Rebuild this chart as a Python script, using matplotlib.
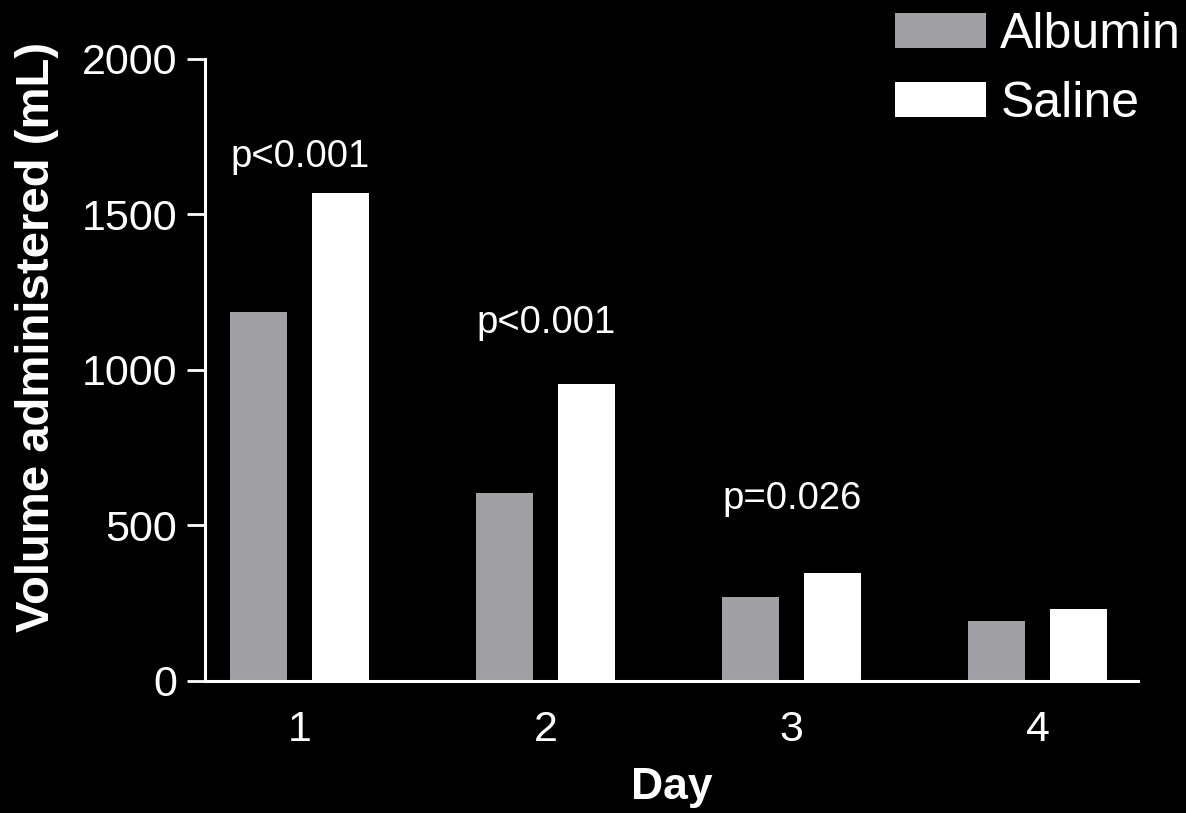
import numpy as np
import matplotlib

matplotlib.use("Agg")
import matplotlib.pyplot as plt

plt.rcParams["font.family"] = ["Liberation Sans", "DejaVu Sans"]

days = ["1", "2", "3", "4"]
albumin = [1184, 603, 269, 194]
saline = [1567, 954, 348, 230]
p_labels = ["p<0.001", "p<0.001", "p=0.026", None]
p_heights = [1683, 1150, 585, None]

ALB_COLOR = "#a09fa4"
SAL_COLOR = "#ffffff"
FG = "white"

fig = plt.figure(figsize=(11.86, 8.13), dpi=100, facecolor="black")
ax = fig.add_axes([0.1729, 0.1624, 0.7866, 0.7656], facecolor="black")

x = np.arange(1, len(days) + 1)
w = 0.232
off = 0.167
ax.bar(x - off, albumin, width=w, color=ALB_COLOR, label="Albumin")
ax.bar(x + off, saline, width=w, color=SAL_COLOR, label="Saline")

for xi, lab, h in zip(x, p_labels, p_heights):
    if lab is None:
        continue
    ax.text(xi, h, lab, ha="center", va="center", color=FG, fontsize=27.5)

ax.set_xlim(0.615, 4.408)
ax.set_ylim(0, 2000)
ax.set_yticks([0, 500, 1000, 1500, 2000])
ax.set_xticks(x)
ax.set_xticklabels(days)

for side in ("top", "right"):
    ax.spines[side].set_visible(False)
for side in ("left", "bottom"):
    ax.spines[side].set_color(FG)
    ax.spines[side].set_linewidth(2.2)

ax.tick_params(axis="y", colors=FG, labelsize=31, length=13, width=2, pad=7)
ax.tick_params(axis="x", colors=FG, labelsize=31, length=0, pad=21)

ax.set_xlabel("Day", color=FG, fontsize=32, fontweight="bold", labelpad=12)
ax.set_ylabel("Volume administered (mL)", color=FG, fontsize=34,
              fontweight="bold")
ax.yaxis.set_label_coords(-0.157, 0.553)

fig.legend(
    loc="upper right",
    bbox_to_anchor=(1.017, 1.016),
    frameon=False,
    fontsize=36,
    handlelength=1.82,
    handleheight=0.7,
    handletextpad=0.28,
    labelspacing=0.46,
    borderpad=0,
    labelcolor=FG,
)

fig.savefig("out.png", dpi=100, facecolor="black")
